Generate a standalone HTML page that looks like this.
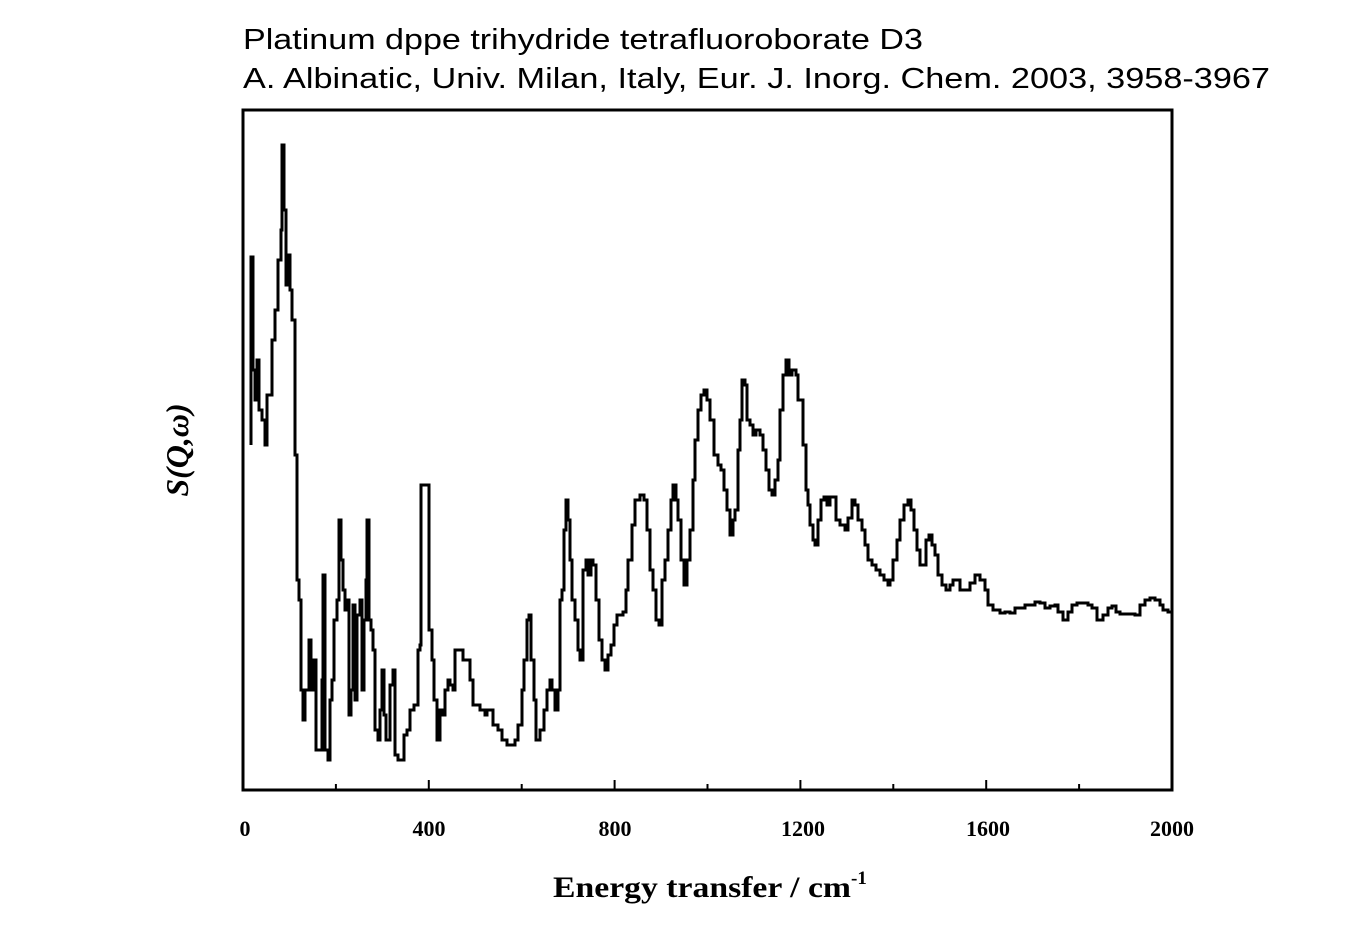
<!DOCTYPE html>
<html><head><meta charset="utf-8"><style>
body{margin:0;background:#fff;}
svg{display:block;}
</style></head><body>
<svg width="1361" height="950" xmlns="http://www.w3.org/2000/svg">
<text x="243" y="49" font-family="Liberation Sans, sans-serif" font-size="29" textLength="680" lengthAdjust="spacingAndGlyphs">Platinum dppe trihydride tetrafluoroborate D3</text>
<text x="243" y="88" font-family="Liberation Sans, sans-serif" font-size="29" textLength="1027" lengthAdjust="spacingAndGlyphs">A. Albinatic, Univ. Milan, Italy, Eur. J. Inorg. Chem. 2003, 3958-3967</text>
<rect x="243" y="110" width="929" height="680" fill="none" stroke="#000" stroke-width="3"/>
<g stroke="#000" stroke-width="2">
<line x1="243" y1="790" x2="243" y2="780"/><line x1="335.9" y1="790" x2="335.9" y2="784"/>
<line x1="428.8" y1="790" x2="428.8" y2="780"/><line x1="521.7" y1="790" x2="521.7" y2="784"/>
<line x1="614.6" y1="790" x2="614.6" y2="780"/><line x1="707.5" y1="790" x2="707.5" y2="784"/>
<line x1="800.4" y1="790" x2="800.4" y2="780"/><line x1="893.3" y1="790" x2="893.3" y2="784"/>
<line x1="986.2" y1="790" x2="986.2" y2="780"/><line x1="1079.1" y1="790" x2="1079.1" y2="784"/>
</g>
<g font-family="Liberation Serif, serif" font-size="22" font-weight="bold" text-anchor="middle">
<text x="245" y="836">0</text><text x="429" y="836">400</text><text x="615" y="836">800</text>
<text x="803" y="836">1200</text><text x="988" y="836">1600</text><text x="1172" y="836">2000</text>
</g>
<text x="553" y="897" font-family="Liberation Serif, serif" font-size="30" font-weight="bold" textLength="298" lengthAdjust="spacingAndGlyphs">Energy transfer / cm</text>
<text x="851" y="884" font-family="Liberation Serif, serif" font-size="19" font-weight="bold">-1</text>
<text transform="translate(188,450) rotate(-90)" font-family="Liberation Serif, serif" font-size="32" font-weight="bold" font-style="italic" text-anchor="middle">S(Q,ω)</text>
<polyline id="c" fill="none" stroke="#000" stroke-width="3" points="251,445 251,257 253,370 255,400 257,360 259,410 262,420 265,445 267,395 270,395 272,340 275,310 278,260 281,230 282,145 284,210 286,285 288,255 290,290 292,320 295,455 297,580 299,600 301,690 303,720 305,690 309,640 311,690 313,660 316,750 319,750 322,680 323,575 325,750 328,760 330,700 332,680 334,620 337,600 339,520 341,560 343,590 345,610 347,600 349,715 351,690 353,605 355,700 357,615 360,600 362,690 364,620 366,580 367,520 369,620 371,630 373,650 375,730 378,740 380,710 382,670 384,715 386,740 390,685 393,670 395,755 398,760 401,760 404,735 407,730 410,710 414,705 418,650 420,645 421,485 428,485 429,630 432,660 434,700 437,740 440,710 442,715 445,690 448,680 450,685 453,690 455,650 460,650 463,660 466,660 470,680 473,705 480,710 485,715 487,710 490,710 493,725 498,730 502,740 507,745 511,745 515,740 518,725 522,690 524,660 527,620 529,615 531,660 534,700 536,740 540,730 544,710 547,690 550,680 552,690 555,710 558,690 560,600 562,590 564,530 566,500 568,520 570,560 572,600 575,620 578,650 580,660 583,570 586,560 588,575 591,560 593,565 596,600 599,640 602,660 605,670 608,655 611,645 614,625 617,615 623,612 626,590 628,560 632,525 635,500 640,495 644,500 647,530 650,570 653,590 656,620 659,625 662,580 665,560 668,530 671,500 673,485 676,500 678,520 681,560 684,585 687,560 690,530 693,480 695,440 698,410 701,395 704,390 707,400 710,420 714,455 718,465 721,470 724,490 727,510 730,535 733,520 735,510 738,450 740,420 742,380 745,385 747,420 750,425 753,435 756,430 760,435 763,450 766,470 769,490 772,495 775,480 778,460 780,410 783,375 786,360 789,375 792,370 796,375 798,400 801,400 803,445 806,490 808,505 810,525 813,540 815,545 818,520 821,500 824,497 827,505 830,497 833,497 836,520 840,525 845,530 848,518 852,500 855,505 858,520 862,530 865,545 868,560 872,565 876,570 880,575 884,580 888,585 890,580 893,560 897,540 900,520 904,505 908,500 911,510 914,530 917,550 920,565 923,565 926,540 929,535 932,545 935,555 938,575 942,585 946,590 950,585 953,580 957,580 960,590 963,590 966,590 970,583 975,575 980,580 985,590 988,605 993,610 1000,613 1005,612 1010,613 1015,608 1020,608 1025,605 1030,605 1035,602 1040,603 1045,608 1050,606 1055,605 1058,612 1063,620 1068,612 1072,605 1077,603 1083,603 1088,605 1092,608 1097,620 1103,615 1108,608 1112,606 1116,612 1120,614 1125,614 1130,614 1135,615 1140,605 1145,600 1150,598 1155,600 1160,605 1163,610 1168,612 1172,614"/>
</svg>
<script>
(function(){var p=document.getElementById('c');var a=p.getAttribute('points').trim().split(/\s+/).map(function(s){return s.split(',').map(Number);});
var o=[a[0]];for(var i=1;i<a.length;i++){o.push([a[i][0],a[i-1][1]]);o.push(a[i]);}
p.setAttribute('points',o.map(function(q){return q[0]+','+q[1];}).join(' '));})();
</script>
</body></html>
